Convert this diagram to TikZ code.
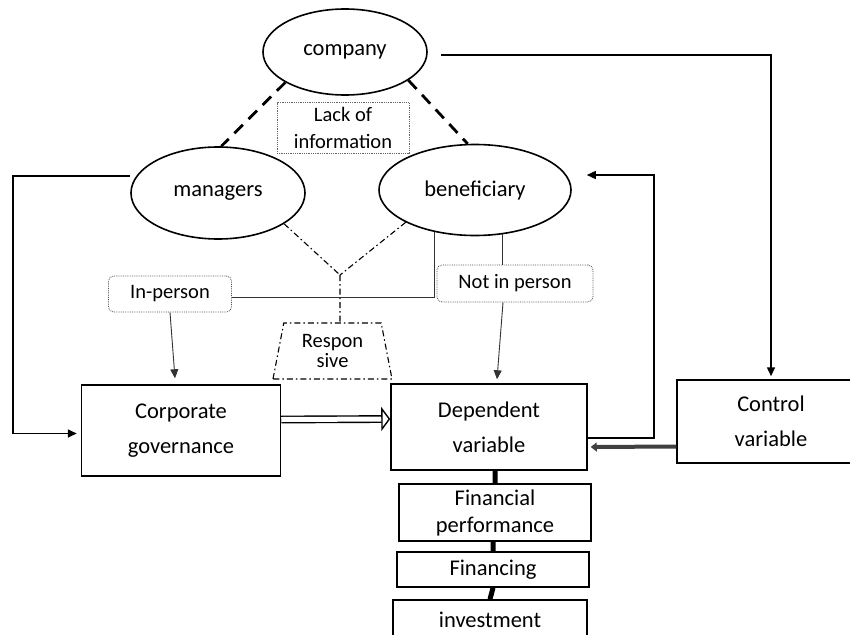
\documentclass[tikz,border=0pt]{standalone}
\usepackage{fontspec}
\setmainfont{Carlito}
\usetikzlibrary{positioning,arrows.meta,shapes.geometric}

\begin{document}
\begin{tikzpicture}[x=1pt,y=-1pt]
    \useasboundingbox (0,0) rectangle (850,634);
    \begin{scope}[>={Triangle[length=9pt,width=8pt]}, text centered,
    		party/.style={ellipse,draw,line width=1.6pt,align=center,font=\fontsize{22.5}{35}\selectfont},
    		block/.style={rectangle,draw,line width=1.5pt,align=center,inner sep=3pt,font=\fontsize{22.5}{35}\selectfont},
    		tag/.style={rectangle,rounded corners=5pt,draw=black!70,densely dotted,line width=0.8pt,font=\fontsize{20.5}{24}\selectfont},
    		arrow/.style={black, line width=1.6pt, ->},
    		wire/.style={black!80, line width=0.9pt},
    		asym/.style={line width=2.8pt, dash pattern=on 12pt off 8pt},
    		split/.style={line width=1.1pt, dash pattern=on 6pt off 3pt on 1.5pt off 3pt},
    		link/.style={line width=5pt}]

    \node[party, minimum width=164pt, minimum height=86pt] (company) at (345,52) {company};
    \node[party, minimum width=174pt, minimum height=92pt] (managers) at (218,193) {managers};
    \node[party, minimum width=192pt, minimum height=91pt] (beneficiary) at (475,190) {beneficiary};
    \node[draw=black!60, densely dotted, line width=0.8pt, align=center, inner sep=2pt,
          minimum width=132pt, minimum height=51pt, font=\fontsize{20.5}{27}\selectfont] (lack) at (343,128) {Lack of\\information};

    \coordinate (join) at (340,275);
    \node[trapezium, draw, trapezium angle=73, trapezium stretches body=true, split, align=center, inner sep=1pt,
          minimum width=119pt, minimum height=56pt, font=\fontsize{20.5}{20}\selectfont] (respon) at (332.5,351) {Respon\\sive};

    \node[tag, minimum width=123pt, minimum height=36pt] (inperson) at (170,294) {In-person};
    \node[tag, minimum width=156pt, minimum height=37pt] (notinperson) at (515,283.5) {Not in person};

    \node[block, minimum width=199pt, minimum height=91pt] (governance) at (181,430.5) {Corporate\\governance};
    \node[block, minimum width=196pt, minimum height=86pt] (dependent) at (489,427) {Dependent\\variable};
    \node[block, minimum width=188pt, minimum height=83pt] (control) at (771,421.5) {Control\\variable};
    \node[block, minimum width=192pt, minimum height=57pt, font=\fontsize{22.5}{27}\selectfont] (finperf) at (495,512.5) {Financial\\performance};
    \node[block, minimum width=192pt, minimum height=35pt] (financing) at (493,569.5) {Financing};
    \node[block, minimum width=194pt, minimum height=40pt] (investment) at (490,620) {investment};

    % agency relations
    \draw[asym] (company.207) -- (managers.86);
    \draw[asym] (company.336) -- (beneficiary.99);
    \draw[split]
    (managers.335) -- (join)
    (beneficiary.205) -- (join)
    (join) -- (join |- respon.north);

    % representation
    \draw[wire] ([yshift=-3pt]inperson.east) -| (beneficiary.226);
    \draw[wire] (beneficiary.302) -- (beneficiary.302 |- notinperson.north);
    \draw[wire,->] (inperson.south) -- ([xshift=-6pt,yshift=6pt]governance.north);
    \draw[wire,->] ([xshift=-12pt]notinperson.south) -- ([xshift=8pt,yshift=4pt]dependent.north);

    % model
    \draw[arrow] ([yshift=17pt]managers.west) -- ++(-117,0) |- ([xshift=-4pt,yshift=-3pt]governance.west);
    \draw[arrow] ([xshift=13pt,yshift=-3pt]company.east) -| ([yshift=3pt]control.north);
    \draw[arrow] ([yshift=-11pt]dependent.east) -- ++(66,0) |- ([xshift=15pt,yshift=15pt]beneficiary.east);
    \draw[line width=1.4pt, double, double distance=5pt, -{Triangle[open,length=9pt,width=24pt,line width=1.4pt]}] ([yshift=11pt]governance.east) -- ([yshift=8pt]dependent.west);
    \draw[black!75, line width=4pt, -{Triangle[length=6pt,width=9pt]}] ([yshift=-25pt]control.west) -- ([xshift=3pt,yshift=-20pt]dependent.east);

    % measures
    \draw[link]
    (finperf.north |- dependent.south) -- (finperf.north)
    (financing.north |- finperf.south) -- (financing.north)
    (financing.south) -- (investment.north);

    \end{scope}
\end{tikzpicture}
\end{document}
